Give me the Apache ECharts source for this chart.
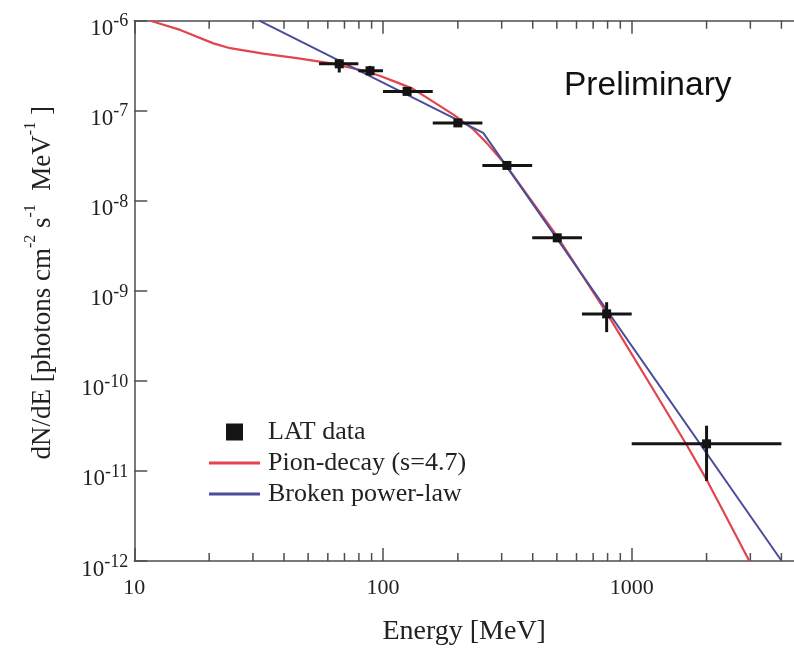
<!DOCTYPE html>
<html><head><meta charset="utf-8">
<script src="https://cdn.jsdelivr.net/npm/echarts@6/dist/echarts.min.js"></script>
<style>html,body{margin:0;padding:0;background:#fff}#c{width:794px;height:651px}</style>
</head><body><div id="c"></div>
<script>
// ---- data ----
const latE   = [66.7, 88.7, 125, 200, 315, 502, 793, 2000];
const latF   = [3.32e-7, 2.78e-7, 1.64e-7, 7.33e-8, 2.47e-8, 3.88e-9, 5.55e-10, 2.0e-11];
const latElo = [55.3, 79.6, 100, 158.5, 251, 398, 631, 1000];
const latEhi = [79.6, 100, 158.5, 251, 398, 631, 1000, 4000];
const latFlo = [2.66e-7, 2.45e-7, 1.55e-7, 6.9e-8, 2.3e-8, 3.5e-9, 3.48e-10, 7.75e-12];
const latFhi = [3.74e-7, 3.15e-7, 1.73e-7, 7.8e-8, 2.65e-8, 4.3e-9, 7.48e-10, 3.18e-11];

const pionE = [11.6, 15.3, 20.8, 24.3, 33, 45, 61, 83, 97, 113, 132, 192, 231, 261, 314, 500, 793, 1261, 1664, 2003, 2335, 2971];
const pionF = [1.0e-6, 7.9e-7, 5.6e-7, 4.95e-7, 4.3e-7, 3.84e-7, 3.38e-7, 2.8e-7, 2.45e-7, 2.08e-7, 1.75e-7, 9.05e-8, 6.2e-8, 4.4e-8, 2.43e-8, 4.08e-9, 5.7e-10, 6.93e-11, 1.94e-11, 7.95e-12, 3.56e-12, 1.0e-12];

const bplE = [31.8, 253, 4010];
const bplF = [1.0e-6, 5.68e-8, 1.0e-12];

const xMin = 10, xMax = 4494, yMin = 1e-12, yMax = 1e-6;
const xMajorTicks = [10, 100, 1000];
const xMinorTicks = [20, 30, 40, 50, 60, 70, 80, 90, 200, 300, 400, 500, 600, 700, 800, 900, 2000, 3000, 4000];

// ---- chart ----
const serif = 'Liberation Serif';
const axisColor = '#4d4d4d';
const chart = echarts.init(document.getElementById('c'), null, {renderer: 'canvas'});

const latPts = latE.map((e, i) => [e, latF[i]]);
const latErr = latE.map((e, i) => [e, latF[i], latElo[i], latEhi[i], latFlo[i], latFhi[i]]);
const pionPts = pionE.map((e, i) => [e, pionF[i]]);
const bplPts = bplE.map((e, i) => [e, bplF[i]]);
const minorPts = xMinorTicks.map(v => [v, yMin]);

function yLabel(v) {
  const e = Math.round(Math.log10(v));
  return '{b|10}{s|' + e + '}';
}
function xLabel(v) {
  const l = Math.log10(v);
  return Math.abs(l - Math.round(l)) < 1e-6 ? String(Math.round(v)) : '';
}

const option = {
  animation: false,
  backgroundColor: '#fff',
  grid: {left: 134.3, top: 20.7, right: 0, bottom: 88, containLabel: false},
  graphic: [{
    type: 'text', left: 564, top: 69,
    style: {text: 'Preliminary', font: '33.5px "Liberation Sans"', fill: '#111'}
  }],
  legend: {
    orient: 'vertical', left: 204, top: 414,
    itemWidth: 51, itemHeight: 17, itemGap: 5,
    selectedMode: false,
    textStyle: {fontFamily: serif, fontSize: 26, color: '#222', padding: [0, 0, 0, 3]},
    data: [
      {name: 'LAT data', icon: 'path://M0,0H10V10H0Z', itemStyle: {color: '#141414', opacity: 1}},
      {name: 'Pion-decay (s=4.7)', icon: 'path://M0,0H51V3H0Z'},
      {name: 'Broken power-law', icon: 'path://M0,0H51V3H0Z'}
    ]
  },
  xAxis: [{
    type: 'log', logBase: 10, min: xMin, max: xMax,
    name: 'Energy [MeV]', nameLocation: 'middle', nameGap: 57,
    nameTextStyle: {fontFamily: serif, fontSize: 28, color: '#222'},
    axisLine: {lineStyle: {color: axisColor, width: 1.5}},
    axisTick: {inside: true, length: 13, customValues: xMajorTicks, lineStyle: {color: axisColor, width: 1.5}},
    axisLabel: {formatter: xLabel, customValues: xMajorTicks, margin: 16, fontFamily: serif, fontSize: 22, color: '#222'},
    splitLine: {show: false}
  }, {
    type: 'log', logBase: 10, min: xMin, max: xMax, position: 'top',
    axisLine: {lineStyle: {color: axisColor, width: 1.5}},
    axisTick: {inside: true, length: 13, customValues: xMajorTicks, lineStyle: {color: axisColor, width: 1.5}},
    axisLabel: {show: false}, splitLine: {show: false}
  }],
  yAxis: [{
    type: 'log', logBase: 10, min: yMin, max: yMax,
    name: '{m|dN/dE [photons cm}{s|-2}{m| s}{s|-1}{m|  MeV}{s|-1}{m| ]}',
    nameLocation: 'middle', nameGap: 78,
    nameTextStyle: {
      color: '#222',
      padding: [0, 0, 0, 16],
      rich: {
        m: {fontFamily: serif, fontSize: 27, lineHeight: 34, verticalAlign: 'bottom', color: '#222'},
        s: {fontFamily: serif, fontSize: 16, lineHeight: 16, verticalAlign: 'top', color: '#222'}
      }
    },
    axisLine: {lineStyle: {color: axisColor, width: 1.5}},
    axisTick: {inside: true, length: 13, lineStyle: {color: axisColor, width: 1.5}},
    axisLabel: {
      formatter: yLabel, margin: 6,
      padding: [12, 0, 0, 0],
      rich: {
        b: {fontFamily: serif, fontSize: 23, lineHeight: 28, verticalAlign: 'bottom', color: '#222'},
        s: {fontFamily: serif, fontSize: 18, lineHeight: 12, verticalAlign: 'top', color: '#222'}
      }
    },
    splitLine: {show: false}
  }, {
    type: 'log', logBase: 10, min: yMin, max: yMax, position: 'right',
    axisLine: {show: false}, axisTick: {show: false},
    axisLabel: {show: false}, splitLine: {show: false}
  }],
  series: [
    {
      type: 'custom', name: 'minor', silent: true, clip: false,
      data: minorPts, encode: {x: 0, y: 1},
      renderItem: function (params, api) {
        const v = api.value(0);
        const pb = api.coord([v, yMin]);
        const pt = api.coord([v, yMax]);
        const st = {stroke: axisColor, lineWidth: 1.5};
        return {type: 'group', children: [
          {type: 'line', shape: {x1: pb[0], y1: pb[1], x2: pb[0], y2: pb[1] - 8}, style: st},
          {type: 'line', shape: {x1: pt[0], y1: pt[1], x2: pt[0], y2: pt[1] + 8}, style: st}
        ]};
      }
    },
    {
      type: 'line', name: 'Pion-decay (s=4.7)', data: pionPts,
      showSymbol: false, symbol: 'none', smooth: false,
      color: '#e2454d', lineStyle: {color: '#e2454d', width: 2.2}, z: 3
    },
    {
      type: 'line', name: 'Broken power-law', data: bplPts,
      showSymbol: false, symbol: 'none',
      color: '#4a4d9a', lineStyle: {color: '#4a4d9a', width: 2}, z: 4
    },
    {
      type: 'custom', name: 'LAT errors', silent: true, clip: false,
      color: '#141414',
      data: latErr, encode: {x: 0, y: 1}, z: 5,
      renderItem: function (params, api) {
        const x = api.value(0), y = api.value(1);
        const a = api.coord([api.value(2), y]);
        const b = api.coord([api.value(3), y]);
        const c = api.coord([x, api.value(4)]);
        const d = api.coord([x, api.value(5)]);
        const st = {stroke: '#141414', lineWidth: 3};
        return {type: 'group', children: [
          {type: 'line', shape: {x1: a[0], y1: a[1], x2: b[0], y2: b[1]}, style: st},
          {type: 'line', shape: {x1: c[0], y1: c[1], x2: d[0], y2: d[1]}, style: st}
        ]};
      }
    },
    {
      type: 'scatter', name: 'LAT data', data: latPts,
      symbol: 'rect', symbolSize: 9, color: '#141414',
      itemStyle: {color: '#141414', opacity: 1}, z: 6
    }
  ]
};
chart.setOption(option);
</script>
</body></html>
